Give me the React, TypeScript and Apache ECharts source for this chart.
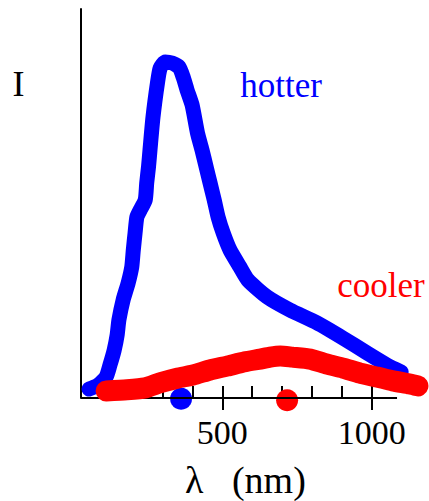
import React, { useEffect, useRef } from "react";
import * as echarts from "echarts";

// Hotter body spectrum (wavelength nm, intensity arbitrary units)
const hotterNm = [54, 84, 111, 124, 138, 148, 154, 168, 185, 197, 202, 208, 214, 225, 242, 247, 253, 258, 268, 283, 292, 309, 332, 355, 369, 382, 399, 417, 432, 446, 459, 473, 486, 503, 526, 559, 586, 650, 727, 817, 904, 984, 1051, 1099];
const hotterI = [2.3, 3.3, 5.4, 8.5, 12.3, 16.2, 20.1, 25.2, 29.6, 33.7, 38.0, 42.4, 46.5, 48.3, 50.9, 55.3, 59.4, 63.8, 72.2, 81.0, 84.8, 86.4, 86.1, 85.1, 82.5, 79.2, 75.3, 68.1, 63.8, 59.4, 55.3, 50.9, 46.5, 42.4, 38.0, 33.7, 30.3, 26.0, 22.6, 19.3, 15.4, 11.6, 8.5, 6.7];

// Cooler body spectrum
const coolerNm = [111, 181, 242, 292, 349, 402, 459, 516, 576, 627, 660, 694, 734, 794, 851, 904, 961, 1018, 1071, 1128, 1155];
const coolerI = [1.8, 2.1, 2.6, 3.9, 5.1, 5.9, 7.2, 8.2, 9.3, 10.0, 10.5, 10.8, 10.5, 10.0, 8.7, 7.7, 6.4, 5.4, 4.4, 3.6, 3.1];

// Peak wavelength markers
const peakNm = [362, 717];
const peakI = [-0.2, -0.6];
const peakColors = ["#0000ff", "#ff0000"];

// Axis: drawn wavelength range, ticks
const axisNm = [27, 1085];
const minorTicks = [100, 200, 300, 400, 500, 600, 700, 800, 900, 1000];
const labelTicks = [500, 1000];

const SERIF = "Liberation Serif";

export default function App() {
  const ref = useRef<HTMLDivElement>(null);
  useEffect(() => {
    if (!ref.current) return;
    const chart = echarts.init(ref.current, undefined, { renderer: "svg" });
    const hotter = hotterNm.map((x, i) => [x, hotterI[i]]);
    const cooler = coolerNm.map((x, i) => [x, coolerI[i]]);
    const peaks = peakNm.map((x, i) => ({ value: [x, peakI[i]], itemStyle: { color: peakColors[i], opacity: 1 } }));
    const axisLineData = axisNm.map((x) => [x, 0]);
    chart.setOption({
      animation: false,
      backgroundColor: "#ffffff",
      grid: { left: 81, top: 9, right: 0, bottom: 103 },
      xAxis: [
        {
          type: "value",
          min: 27,
          max: 1192,
          axisLine: { show: false },
          axisTick: { show: true, inside: true, length: 12, customValues: minorTicks, lineStyle: { color: "#000", width: 2 } },
          axisLabel: {
            show: true,
            customValues: labelTicks,
            formatter: (v: number) => String(v),
            fontSize: 34,
            fontFamily: SERIF,
            color: "#000",
            margin: 17,
          },
          splitLine: { show: false },
        },
        {
          type: "value",
          min: 27,
          max: 1192,
          position: "bottom",
          axisLine: { show: false },
          axisTick: { show: true, inside: false, length: 12, customValues: labelTicks, lineStyle: { color: "#000", width: 2 } },
          axisLabel: { show: false },
          splitLine: { show: false },
        },
      ],
      yAxis: {
        type: "value",
        min: 0,
        max: 100,
        axisLine: { show: true, onZero: false, lineStyle: { color: "#000", width: 2 } },
        axisTick: { show: false },
        axisLabel: { show: false },
        splitLine: { show: false },
      },
      series: [
        {
          type: "line",
          data: axisLineData,
          symbol: "none",
          silent: true,
          lineStyle: { color: "#000", width: 2 },
        },
        {
          type: "line",
          data: hotter,
          symbol: "none",
          smooth: 0.2,
          clip: false,
          lineStyle: { color: "#0000ff", width: 15, cap: "round", join: "round" },
        },
        {
          type: "line",
          data: cooler,
          symbol: "none",
          smooth: 0.2,
          clip: false,
          lineStyle: { color: "#ff0000", width: 21, cap: "round", join: "round" },
        },
        {
          type: "scatter",
          data: peaks,
          symbol: "circle",
          symbolSize: 22,
          clip: false,
          itemStyle: { opacity: 1 },
        },
      ],
      graphic: [
        { type: "text", x: 18.5, y: 84, style: { text: "I", fontSize: 36, fontFamily: SERIF, fill: "#000", textAlign: "center", textVerticalAlign: "middle" } },
        { type: "text", x: 281, y: 85, style: { text: "hotter", fontSize: 35, fontFamily: SERIF, fill: "#0000ff", textAlign: "center", textVerticalAlign: "middle" } },
        { type: "text", x: 381, y: 285, style: { text: "cooler", fontSize: 35, fontFamily: SERIF, fill: "#ff0000", textAlign: "center", textVerticalAlign: "middle" } },
        { type: "text", x: 185, y: 479.5, style: { text: "λ   (nm)", fontSize: 38, fontFamily: SERIF, fill: "#000", textAlign: "left", textVerticalAlign: "middle" } },
      ],
    });
    return () => chart.dispose();
  }, []);
  return <div ref={ref} style={{ position: "absolute", left: 0, top: 0, width: 429, height: 501 }} />;
}
